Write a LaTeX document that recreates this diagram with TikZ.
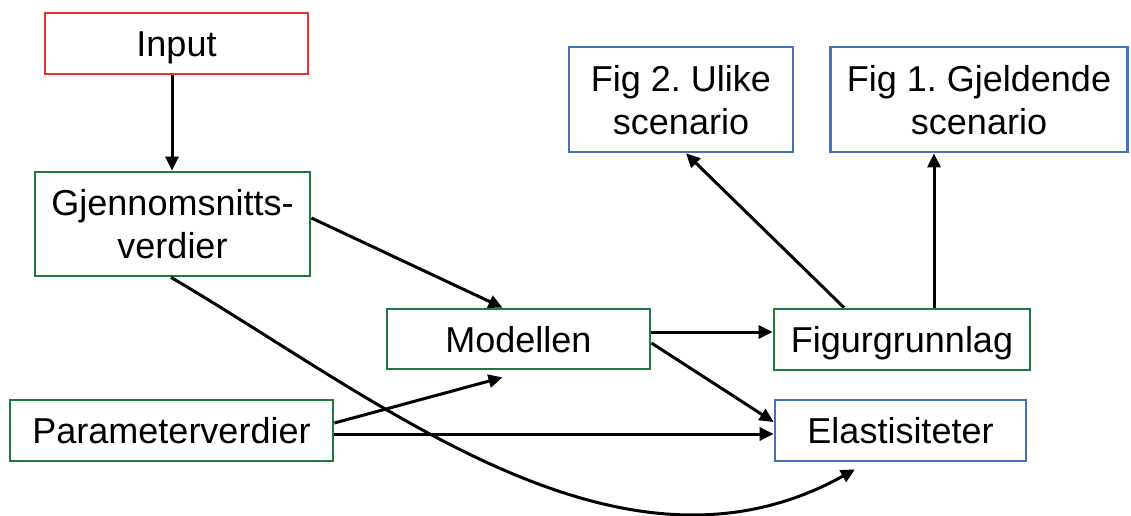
\documentclass[tikz,border=0pt]{standalone}
\usepackage{fontspec}
\setmainfont{Liberation Sans}
\frenchspacing
\usetikzlibrary{arrows.meta,calc}
\definecolor{bred}{RGB}{232,48,52}
\definecolor{bgreen}{RGB}{30,122,60}
\definecolor{bblue}{RGB}{70,112,190}
\tikzset{
  box/.style={draw, line width=2.8pt, rectangle, align=center, inner sep=0pt,
    text height=34pt, text depth=8pt,
    font=\fontsize{36}{43}\selectfont},
  twoline/.style={text height=77pt, text depth=8pt},
  redbox/.style={box, draw=bred},
  greenbox/.style={box, draw=bgreen},
  bluebox/.style={box, draw=bblue},
  conn/.style={line width=3pt, -{Triangle[length=14pt,width=13pt]}},
}
\begin{document}
\begin{tikzpicture}[x=1pt,y=-1pt]
\useasboundingbox (0,0) rectangle (1131,516);
\node[redbox, minimum width=263pt, minimum height=61pt] (in) at (176.5,43.5) {Input};
\node[greenbox, twoline, minimum width=275pt, minimum height=104pt] (gj) at (172.5,224) {Gjennomsnitts-\\verdier};
\node[greenbox, minimum width=263pt, minimum height=60pt] (mod) at (518.5,339) {Modellen};
\node[greenbox, minimum width=323pt, minimum height=61pt] (par) at (171.5,430.5) {Parameterverdier};
\node[greenbox, minimum width=256pt, minimum height=61pt] (fig) at (902,339.5) {Figurgrunnlag};
\node[bluebox, minimum width=251pt, minimum height=61pt] (ela) at (900.5,430.5) {Elastisiteter};
\node[bluebox, twoline, minimum width=224pt, minimum height=105pt] (f2) at (681,99.5) {Fig 2. Ulike\\scenario};
\node[bluebox, twoline, minimum width=297pt, minimum height=105pt] (f1) at (979,99.5) {Fig 1. Gjeldende\\scenario};

\draw[conn] ($(in.south)+(-4.5,0)$) -- ($(gj.north)+(-0.5,0)$);
\draw[conn] ($(gj.east)+(0,-6)$) -- ($(mod.north)+(-16,0)$);
\draw[conn] ($(par.east)+(0,-7.5)$) -- ($(mod.south)+(-16,7)$);
\draw[conn] ($(par.east)+(0,3.5)$) -- ($(ela.west)+(0,3.5)$);
\draw[conn] ($(mod.east)+(0,-7)$) -- ($(fig.west)+(0,-7.5)$);
\draw[conn] ($(mod.east)+(0,4)$) -- ($(ela.west)+(0,-8.5)$);
\draw[conn] ($(fig.north)+(-58,0)$) -- ($(f2.south)+(5,0)$);
\draw[conn] ($(fig.north)+(32,0)$) -- ($(f1.south)+(-45,0)$);
\draw[conn] ($(gj.south)+(-1.5,0)$) .. controls (380,400) and (620,600) .. ($(ela.south)+(-45.5,7)$);
\end{tikzpicture}
\end{document}
